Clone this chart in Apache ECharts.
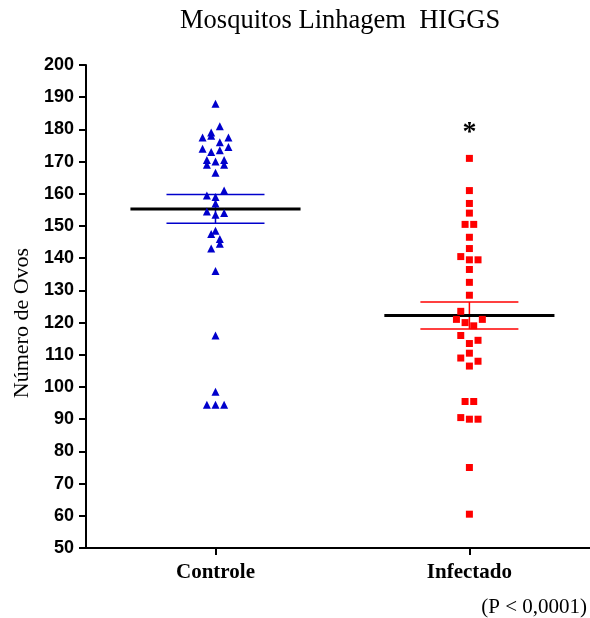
<!DOCTYPE html>
<html>
<head>
<meta charset="utf-8">
<script src="https://cdn.jsdelivr.net/npm/echarts@6/dist/echarts.min.js"></script>
<style>
  html, body { margin: 0; padding: 0; background: #fff; }
  #main { width: 590px; height: 618px; }
</style>
</head>
<body>
<div id="main"></div>
<script>
// groups
var categories = ['Controle', 'Infectado'];

// values, offsets are the horizontal jitter (half-steps)
var controleValues = [188, 181, 179, 178, 177.5, 177.5, 176, 174.5, 173.5, 174, 173,
    170.5, 169, 170, 170.5, 169, 166.5, 161, 159.5, 159, 157, 154.5, 153.5, 154,
    148.5, 147.5, 146, 144.5, 143, 136, 116, 98.5, 94.5, 94.5, 94.5];
var controleOffsets = [0, 1, -1, -1, -3, 3, 1, 3, 1, -3, -1,
    -2, -2, 0, 2, 2, 0, 2, -2, 0, 0, -2, 0, 2,
    0, -1, 1, 1, -1, 0, 0, 0, -2, 0, 2];

var infectadoValues = [171, 161, 157, 154, 150.5, 150.5, 146.5, 143, 140.5, 139.5, 139.5,
    136.5, 132.5, 128.5, 123.5, 121, 120, 119, 121, 116, 113.5, 114.5, 110.5,
    109, 108, 106.5, 95.5, 95.5, 90.5, 90, 90, 75, 60.5];
var infectadoOffsets = [0, 0, 0, 0, -1, 1, 0, 0, -2, 0, 2,
    0, 0, 0, -2, -3, -1, 1, 3, -2, 0, 2, 0,
    -2, 2, 0, -1, 1, -2, 0, 2, 0, 0];

// mean and SEM for each group
var means = [155.3, 122.2];
var sems = [4.45, 4.2];

var yMin = 50, yMax = 200, yInterval = 10;
var groupPos = [0.5, 1.5];

var STEP = 0.017;
var groupColors = ['#0000cc', '#ff0000'];

function points(vals, offs, g) {
    return vals.map(function (v, i) { return [groupPos[g] + offs[i] * STEP, v]; });
}

var chart = echarts.init(document.getElementById('main'));

chart.setOption({
    animation: false,
    grid: { left: 86, right: 0, top: 65, bottom: 70, containLabel: false },
    xAxis: {
        type: 'value',
        min: -0.01, max: 1.975,
        axisLine: { show: true, onZero: false, lineStyle: { color: '#000', width: 2 } },
        axisTick: { show: true, customValues: groupPos, length: 7, lineStyle: { color: '#000', width: 2 } },
        axisLabel: {
            customValues: groupPos,
            formatter: function (v) { return categories[groupPos.indexOf(v)]; },
            color: '#000', fontFamily: 'Liberation Serif', fontWeight: 'bold',
            fontSize: 21, margin: 14
        },
        splitLine: { show: false }
    },
    yAxis: {
        type: 'value',
        min: yMin, max: yMax, interval: yInterval,
        axisLine: { show: true, onZero: false, lineStyle: { color: '#000', width: 2 } },
        axisTick: { show: true, length: 7, lineStyle: { color: '#000', width: 2 } },
        axisLabel: {
            color: '#000', fontFamily: 'Liberation Sans', fontWeight: 'bold',
            fontSize: 18, margin: 12
        },
        splitLine: { show: false }
    },
    graphic: [{
        type: 'text', left: 180, top: 8,
        style: { text: 'Mosquitos Linhagem  HIGGS', font: '26.5px "Liberation Serif"', fill: '#000' }
    }, {
        type: 'text', x: 22, y: 323, rotation: Math.PI / 2,
        style: {
            text: 'Número de Ovos', font: '22px "Liberation Serif"', fill: '#000',
            align: 'center', verticalAlign: 'middle'
        }
    }, {
        type: 'text', right: 3, top: 597,
        style: { text: '(P < 0,0001)', font: '21px "Liberation Serif"', fill: '#000' }
    }],
    series: [{
        type: 'custom',
        z: 1,
        data: means.map(function (m, i) { return [i, m, sems[i]]; }),
        renderItem: function (params, api) {
            var g = api.value(0), m = api.value(1), s = api.value(2);
            var c = groupPos[g];
            var color = groupColors[g];
            var a = api.coord([c - 0.335, m]), b = api.coord([c + 0.335, m]);
            var hl = api.coord([c - 0.193, m + s]), hr = api.coord([c + 0.193, m + s]);
            var ll = api.coord([c - 0.193, m - s]), lr = api.coord([c + 0.193, m - s]);
            var hi = api.coord([c, m + s]), lo = api.coord([c, m - s]);
            var semStyle = { stroke: color, lineWidth: 1.5 };
            return {
                type: 'group',
                children: [
                    { type: 'line', shape: { x1: hl[0], y1: hl[1], x2: hr[0], y2: hr[1] }, style: semStyle },
                    { type: 'line', shape: { x1: ll[0], y1: ll[1], x2: lr[0], y2: lr[1] }, style: semStyle },
                    { type: 'line', shape: { x1: hi[0], y1: hi[1], x2: lo[0], y2: lo[1] }, style: semStyle },
                    { type: 'line', shape: { x1: a[0], y1: a[1], x2: b[0], y2: b[1] }, style: { stroke: '#000', lineWidth: 3 } }
                ]
            };
        }
    }, {
        name: 'Controle',
        type: 'scatter',
        z: 2,
        symbol: 'triangle',
        symbolSize: 8,
        itemStyle: { color: groupColors[0], opacity: 1 },
        data: points(controleValues, controleOffsets, 0)
    }, {
        name: 'Infectado',
        type: 'scatter',
        z: 2,
        symbol: 'rect',
        symbolSize: 7,
        itemStyle: { color: groupColors[1], opacity: 1 },
        data: points(infectadoValues, infectadoOffsets, 1),
        markPoint: {
            symbol: 'circle',
            symbolSize: 0,
            data: [{ coord: [1.5, 179] }],
            label: {
                show: true, position: 'inside', formatter: '*',
                color: '#000', fontFamily: 'Liberation Serif', fontWeight: 'bold', fontSize: 28
            }
        }
    }]
});
</script>
</body>
</html>
